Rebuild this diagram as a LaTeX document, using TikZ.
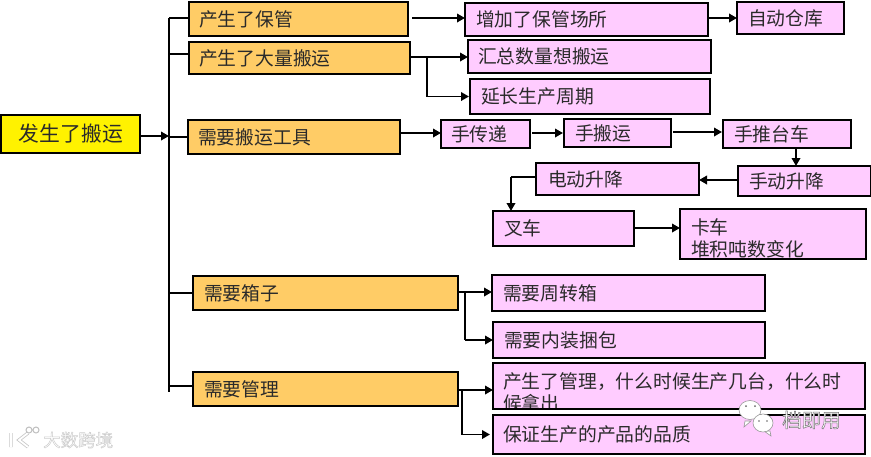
\documentclass[tikz,border=0pt]{standalone}
\usepackage{fontspec}
\setmainfont{Noto Sans CJK SC}
\usetikzlibrary{arrows.meta,calc}
\definecolor{orangebox}{HTML}{FFCC66}
\definecolor{pinkbox}{HTML}{FFCCFF}
\definecolor{inkc}{HTML}{2A2A2A}
\tikzset{
  line/.style={line width=1.9pt,draw=black},
  arr/.style={line width=1.9pt,draw=black,-{Triangle[length=8pt,width=8.5pt]}},
  boxbase/.style={draw=black,line width=2.2pt,inner sep=0pt,outer sep=0pt,text=inkc,align=left,font=\fontsize{18.8}{21.5}\selectfont},
  rootbox/.style={boxbase,fill=yellow,font=\fontsize{20.8}{24}\selectfont},
  orange/.style={boxbase,fill=orangebox},
  pink/.style={boxbase,fill=pinkbox},
  bubble/.style={fill=white,draw=black!40,line width=.6pt},
}
% name, style, x1, y1, x2, y2, left inset, text
\newcommand\bx[8]{%
  \pgfmathsetmacro\bw{#5-#3}\pgfmathsetmacro\bh{#6-#4}%
  \pgfmathsetmacro\bt{\bw-2*#7}%
  \node[#2,anchor=north west,minimum width=\bw pt,minimum height=\bh pt,text width=\bt pt] (#1) at (#3,#4) {#8};}
\begin{document}
\begin{tikzpicture}[x=1pt,y=-1pt]
\useasboundingbox (0,0) rectangle (871,456);
\bx{root}{rootbox}{1}{115}{140}{153}{18}{发生了搬运}
\bx{A1}{orange}{189}{2}{408}{36}{10}{产生了保管}
\bx{A2}{orange}{189}{42}{410}{74}{10}{产生了大量搬运}
\bx{A3}{orange}{188}{120}{400}{154}{10}{需要搬运工具}
\bx{A4}{orange}{193}{276}{458}{310}{11}{需要箱子}
\bx{A5}{orange}{193}{372}{458}{406}{11}{需要管理}
\bx{B1}{pink}{465}{3}{708}{36}{11}{增加了保管场所}
\bx{C1}{pink}{737}{2}{844}{34}{11}{自动仓库}
\bx{B2}{pink}{468}{40}{711}{73}{10}{汇总数量想搬运}
\bx{B3}{pink}{470}{79}{710}{114}{11}{延长生产周期}
\bx{T1}{pink}{441}{120}{530}{148}{10}{手传递}
\bx{T2}{pink}{564}{119}{671}{147}{11}{手搬运}
\bx{T3}{pink}{723}{120}{851}{148}{11}{手推台车}
\bx{T4}{pink}{738}{166}{871}{196}{11}{手动升降}
\bx{T5}{pink}{536}{163}{699}{195}{12}{电动升降}
\bx{T6}{pink}{493}{211}{634}{246}{11}{叉车}
\bx{T7}{pink}{680}{209}{866}{259}{11}{\smash{\raisebox{-22pt}{\parbox[b]{170pt}{卡车\\堆积吨数变化}}}}
\bx{D1}{pink}{492}{275}{765}{311}{11}{需要周转箱}
\bx{D2}{pink}{493}{322}{765}{358}{11}{需要内装捆包}
\bx{E1}{pink}{493}{363}{865}{409}{10}{\smash{\raisebox{-24pt}{\parbox[b]{352pt}{产生了管理，什么时候生产几台，什么时\\候拿出}}}}
\bx{E2}{pink}{493}{415}{865}{454}{10}{保证生产的产品的品质}
% the overflowing second line is cut at the lower border
\fill[white] (E1.south west) rectangle (E2.north east);
\draw[draw=black,line width=2.2pt] (E1.south west) -- (E1.south east);
\draw[draw=black,line width=2.2pt] (E2.north west) -- (E2.north east);
% trunk
\coordinate (tr1) at ($(A1.west)+(-20,-1)$);
\coordinate (tr3) at ($(root.east)+(29,2)$);
\coordinate (tr5) at ($(A5.west)+(-24,3)$);
\draw[line] (tr1 -| tr3) -- (tr5 -| tr3);
\draw[arr] (root.east |- tr3) -- (tr3);
\draw[line] (A1.west |- tr1) -- (tr1 -| tr3);
\draw[line] ($(A2.west)+(0,-4)$) coordinate (p) -- (p -| tr3);
\draw[line] (A3.west) -- (A3.west -| tr3);
\draw[line] (A4.west) -- (A4.west -| tr3);
\draw[line] ($(A5.west)+(0,-3)$) coordinate (p) -- (p -| tr3);
% first level
\draw[arr] ($(A1.east)+(4,-1)$) coordinate (p) -- (p -| B1.west);
\draw[arr] ($(B1.east)+(0,-1.5)$) coordinate (p) -- (p -| C1.west);
\draw[arr] ($(A2.east)+(0,-1)$) coordinate (p) -- (p -| B2.west);
\coordinate (a2j) at ($(A2.east)+(17,-1)$);
\draw[line] (a2j) -- (a2j |- B3.west);
\draw[arr] (a2j |- B3.west) -- ([xshift=-1pt]B3.west);
\draw[arr] ($(A3.east)+(0,-4)$) coordinate (p) -- (p -| T1.west);
\draw[arr,shorten >=1pt] ($(T1.east)+(2,-1)$) coordinate (p) -- (p -| T2.west);
\draw[arr,shorten >=1pt] ($(T2.east)+(2,-1)$) coordinate (p) -- (p -| T3.west);
\draw[arr] ($(T3.south)+(9,0)$) coordinate (p) -- (p |- T4.north);
\draw[arr] ($(T4.west)+(0,-1)$) coordinate (p) -- (p -| T5.east);
\coordinate (t5j) at ($(T5.west)+(-25,-2)$);
\draw[line] (T5.west |- t5j) -- (t5j);
\draw[arr] (t5j) -- (t5j |- T6.north);
\draw[arr] ($(T6.east)+(0,-0.5)$) coordinate (p) -- (p -| T7.west);
\coordinate (a4j) at ($(A4.east)+(7,-1)$);
\draw[arr] ($(A4.east)+(0,-1)$) coordinate (p) -- (p -| D1.west);
\draw[line] (a4j) -- (a4j |- D2.west);
\draw[arr] (a4j |- D2.west) -- (D2.west);
\coordinate (a5j) at ($(A5.east)+(4,1)$);
\draw[arr] ($(A5.east)+(0,1)$) coordinate (p) -- (p -| E1.west);
\draw[line] (a5j) -- (a5j |- E2.west);
\draw[arr] (a5j |- E2.west) -- ([xshift=-3pt]E2.west);
% watermarks
\path[bubble] (745,421) -- (744,427) -- (751,421) -- cycle;
\path[bubble] (750,410) ellipse [x radius=11,y radius=9.5];
\path[bubble] (770,431) -- (771,436) -- (764,431) -- cycle;
\path[bubble] (763,423) ellipse [x radius=10,y radius=9];
\fill[black!60] (746,406) circle (1) (755,406) circle (1) (759,421) circle (.8) (767,421) circle (.8);
\node[text=white,font=\fontsize{19.5}{24}\selectfont,anchor=west,inner sep=0pt] (wm1) at (782,420) {\special{pdf:code 2 Tr 0.5 w 0.45 0.45 0.45 RG}档即用\special{pdf:code 0 Tr}};
\node[text=white,font=\fontsize{17.5}{22}\selectfont,anchor=west,inner sep=0pt] (wm2) at (43,440) {\special{pdf:code 2 Tr 0.5 w 0.8 0.8 0.8 RG}大数跨境\special{pdf:code 0 Tr}};
\draw[black!22,line width=3.4pt] (11,433) -- (11,447) (28,433) -- (19,440) -- (28,447);
\draw[white,line width=1.8pt] (11,433) -- (11,447) (28,433) -- (19,440) -- (28,447);
\draw[black!25,line width=1pt] (29,430) circle (3) (36,430) circle (3);
\end{tikzpicture}
\end{document}
